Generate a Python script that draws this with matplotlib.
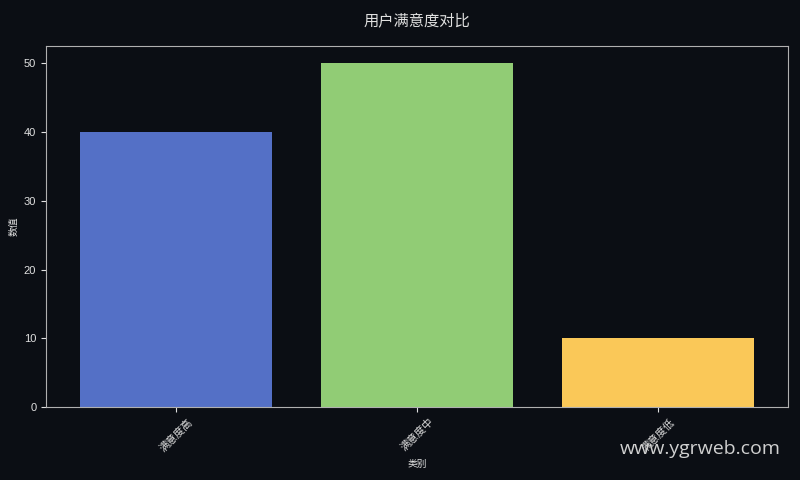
import matplotlib
matplotlib.use("Agg")
import matplotlib.pyplot as plt

plt.rcParams['font.family'] = ['Liberation Sans', 'Noto Sans CJK SC']

categories = ['满意度高', '满意度中', '满意度低']
values = [40, 50, 10]
colors = ['#5470c6', '#91cc75', '#fac858']

bg = '#0b0e14'
fg = '#e0e0e0'

fig, ax = plt.subplots(figsize=(8, 4.8), dpi=100)
fig.patch.set_facecolor(bg)
ax.set_facecolor(bg)

ax.bar(categories, values, color=colors, width=0.8)

ax.set_title('用户满意度对比', color=fg, fontsize=11, pad=15)
ax.set_xlabel('类别', color=fg, fontsize=7)
ax.set_ylabel('数值', color=fg, fontsize=7)
ax.tick_params(colors=fg, labelsize=8)
plt.setp(ax.get_xticklabels(), rotation=45, fontsize=7.5)
for s in ax.spines.values():
    s.set_color('#b0b0b0')

fig.subplots_adjust(left=0.0575, right=0.985, top=0.904, bottom=0.152)
fig.text(0.976, 0.045, 'www.ygrweb.com', color='#d0d0d0', fontsize=14,
         family='Open Sans', ha='right', va='bottom')

fig.savefig('out.png', facecolor=bg)
